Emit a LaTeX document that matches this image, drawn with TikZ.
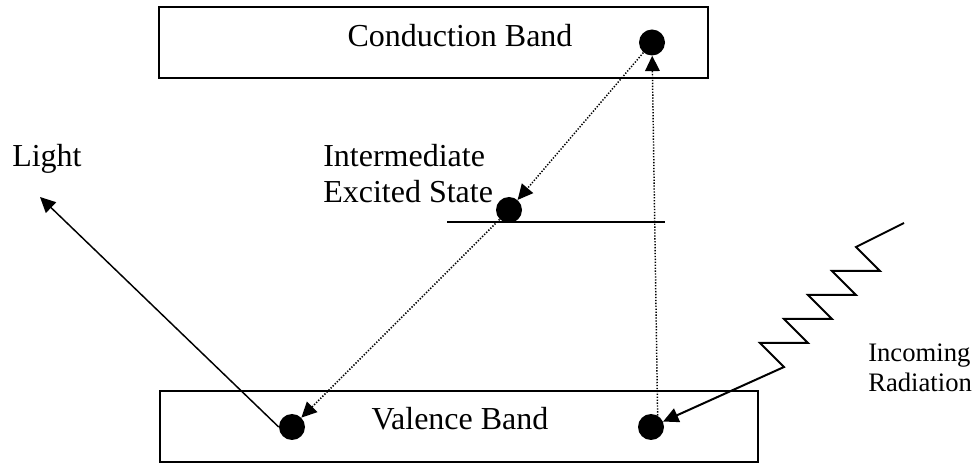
\documentclass[tikz,border=0pt]{standalone}
\usepackage{fontspec}
\setmainfont{Liberation Serif}
\usetikzlibrary{arrows.meta}
\tikzset{
  band/.style={rectangle, draw, line width=1.5pt, inner sep=0pt,
               minimum width=#1, minimum height=53.25pt},
  electron/.style={circle, fill, inner sep=0pt, minimum size=19.5pt},
  lbl/.style={inner sep=0pt, anchor=base west, font=\fontsize{24}{27}\selectfont},
  arr/.style={-{Triangle[length=11.5pt, width=11pt]}, line width=1.1pt},
  hop/.style={-{Triangle[length=11.5pt, width=11pt]}, line width=1.1pt,
              dash pattern=on 1pt off 1.2pt},
}

\begin{document}
\begin{tikzpicture}[x=0.75pt, y=-0.75pt]
  \useasboundingbox (0,0) rectangle (976,463);

  \node[band=411.75pt] (cband) at (433.5,42.5) {};
  \node[band=448.5pt] (vband) at (459,426.5) {};
  \node[lbl, anchor=base] (ctext) at (460,47) {Conduction Band};
  \node[lbl, anchor=base] (vtext) at (460,430) {Valence Band};
  \node[lbl, align=left] (itext) at (323,203) {Intermediate\\Excited State};
  \node[lbl] (ltext) at (12,167) {Light};
  \node[lbl, font=\fontsize{20}{22.5}\selectfont, align=left] (rtext) at (868,392) {Incoming\\Radiation};

  % excited level
  \coordinate (ileft) at (447,222);
  \coordinate (iright) at (665,222);
  \draw[line width=1.5pt] (ileft) -- (iright);

  \node[electron] (cdot) at (652,42.5) {};
  \node[electron] (idot) at (509,210) {};
  \node[electron] (vdotl) at (292,427) {};
  \node[electron] (vdotr) at (651,427) {};

  \coordinate (lighttip) at (40,197);
  \coordinate (radstart) at (904,223);

  \draw[hop] (cdot) -- (idot);
  \draw[hop] (idot) -- (vdotl);
  \draw[hop] (vdotr.60) -- (cdot);
  \draw[arr] (vdotl.west) -- (lighttip);
  \draw[arr, line width=1.5pt] (radstart) -- ++(-48,24) -- ++(24,24)
    \foreach \k in {1,...,4} { -- ++(-48,0) -- ++(24,24) } -- (vdotr);
\end{tikzpicture}
\end{document}
